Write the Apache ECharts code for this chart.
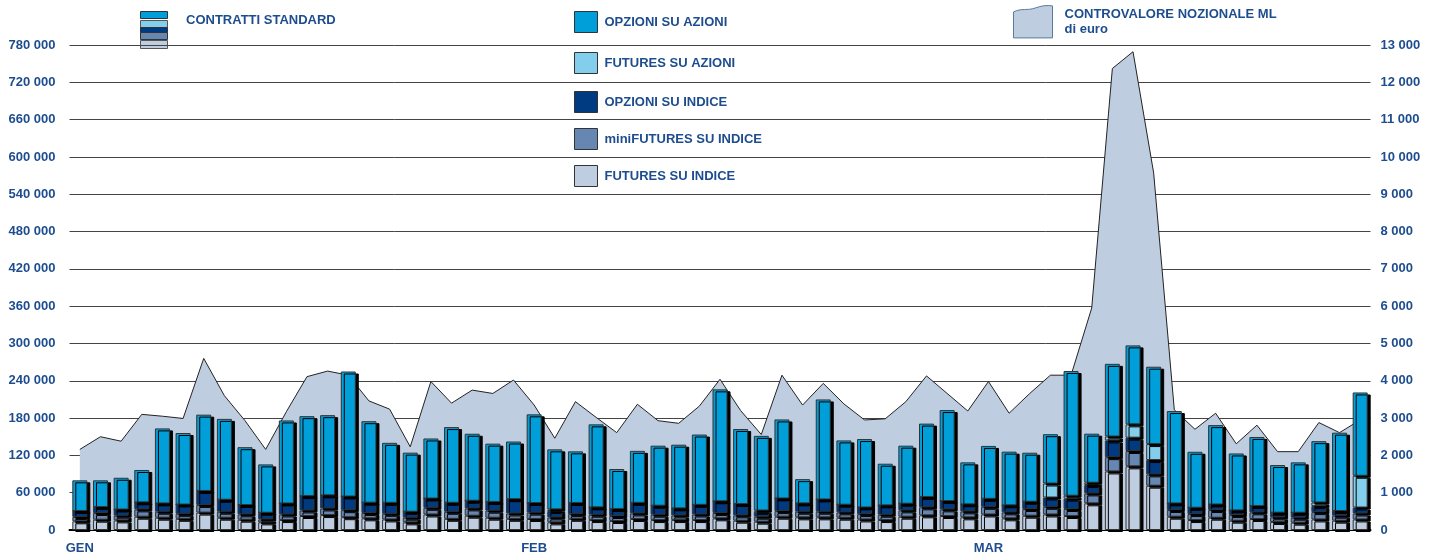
<!DOCTYPE html>
<html>
<head>
<meta charset="utf-8">
<script src="https://cdn.jsdelivr.net/npm/echarts@6/dist/echarts.min.js"></script>
<style>
  html, body { margin: 0; padding: 0; background: #fff; }
  #chart { width: 1435px; height: 556px; }
</style>
</head>
<body>
<div id="chart"></div>
<script>
// mesi e numero di sedute
var months = ['GEN', 'FEB', 'MAR'];
var daysPerMonth = [22, 22, 19];

// contratti standard per seduta
var futuresIndice = [14000, 16600, 15500, 21400, 19800, 18000, 28000, 19800, 16600, 12300, 16000, 22500, 24000, 20600, 18800, 17000, 12300, 25000, 18000, 23000, 19800, 18000,
  17700, 12300, 18000, 16000, 14500, 17700, 16000, 16000, 16000, 18800, 15000, 13400, 21400, 20400, 20400, 19800, 17000, 16000, 21400, 23600, 22500, 20400,
  25000, 18800, 23000, 25000, 22500, 42900, 94200, 102400, 71300, 21400, 16000, 19800, 15000, 17700, 12900, 11800, 17000, 15000, 17000];
var miniFuturesIndice = [7000, 10700, 7500, 11800, 9600, 8000, 12300, 9600, 8600, 4800, 9000, 9000, 10700, 11300, 8600, 9000, 7500, 10700, 11300, 11800, 11300, 8600,
  10200, 8000, 7500, 8600, 8000, 9000, 8600, 7500, 9000, 8600, 8600, 8000, 9000, 9000, 9000, 8600, 8600, 8600, 10200, 12900, 10700, 9600,
  12300, 9600, 10700, 12300, 11300, 16000, 23000, 24700, 18200, 10700, 9600, 12300, 9000, 10700, 7500, 8000, 11800, 8000, 9600];
var opzioniIndice = [9600, 9600, 10000, 11300, 13400, 15000, 22500, 19300, 15000, 10700, 17700, 23000, 21000, 22000, 16600, 17700, 9600, 15000, 14500, 12300, 14000, 23000,
  15500, 10200, 18000, 11800, 11300, 17000, 14500, 11300, 15500, 18800, 18200, 8000, 20400, 13400, 19800, 12300, 10700, 15000, 10700, 16600, 13400, 11300,
  12900, 11300, 11800, 15000, 16600, 13400, 26800, 21400, 23000, 10700, 10200, 9000, 7500, 10200, 7500, 8000, 9600, 7500, 9600];
var futuresAzioni = [0, 0, 0, 0, 0, 0, 0, 0, 0, 0, 0, 0, 0, 0, 0, 0, 0, 0, 0, 0, 0, 0,
  0, 2700, 0, 0, 0, 0, 0, 0, 0, 0, 0, 2000, 0, 0, 0, 0, 0, 0, 0, 0, 0, 0,
  0, 0, 0, 22500, 4800, 3800, 6400, 21400, 25700, 0, 0, 0, 0, 0, 0, 0, 5900, 0, 51000];
var opzioniAzioni = [49300, 43000, 51000, 52000, 120600, 115000, 122700, 130000, 93000, 77700, 133500, 128600, 129000, 201000, 131000, 96500, 95000, 96500, 121700, 107700, 93800, 92700,
  142600, 96500, 83000, 133500, 64300, 83600, 96500, 102400, 113000, 180000, 120600, 120000, 127000, 39000, 160800, 103400, 110000, 67000, 93300, 118000, 146300, 67500,
  85000, 86300, 78800, 79300, 200500, 78800, 116800, 127000, 124400, 148500, 90000, 127600, 91600, 111000, 76600, 81000, 98600, 126000, 134000];

// controvalore nozionale (milioni di euro)
var controvalore = [2160, 2500, 2380, 3100, 3050, 2990, 4600, 3600, 2930, 2160, 3170, 4110, 4260, 4150, 3460, 3240, 2230, 3980, 3400, 3750, 3660, 4020,
  3350, 2460, 3440, 3020, 2610, 3370, 2930, 2860, 3320, 4040, 3200, 2560, 4150, 3350, 3930, 3380, 2950, 2980, 3440, 4130, 3660, 3190,
  3980, 3130, 3660, 4150, 4150, 5950, 12370, 12820, 9570, 3220, 2700, 3130, 2310, 2810, 2100, 2100, 2880, 2610, 2950];

var blu = '#1E4D8F';
var colori = {
  opzAz: '#009FD9',
  futAz: '#82CEEC',
  opzIdx: '#003A80',
  mini: '#6787B3',
  futIdx: '#BECDE0'
};

// categorie: una per seduta, etichetta solo al primo giorno del mese
var categories = [];
var monthStarts = [];
months.forEach(function (m, k) {
  monthStarts.push(categories.length);
  for (var d = 1; d <= daysPerMonth[k]; d++) categories.push(m + '-' + d);
});

function spazi(v) {
  return String(v).replace(/\B(?=(\d{3})+(?!\d))/g, ' ');
}

var chart = echarts.init(document.getElementById('chart'));

var barStyle = function (c) {
  return {
    color: c,
    borderColor: '#333',
    borderWidth: 1,
    shadowColor: '#000',
    shadowBlur: 0,
    shadowOffsetX: 3,
    shadowOffsetY: 2
  };
};

var txt = { color: blu, fontWeight: 'bold', fontSize: 13, fontFamily: 'Arial, Liberation Sans, sans-serif' };
var noShadow = { borderColor: '#333', borderWidth: 1, shadowColor: 'rgba(0,0,0,0)', shadowBlur: 0, shadowOffsetX: 0, shadowOffsetY: 0 };

function voce(name, top) {
  return {
    data: [{ name: name, icon: 'rect' }],
    left: 574, top: top, padding: 0,
    itemWidth: 23, itemHeight: 21,
    selectedMode: false,
    itemStyle: noShadow,
    textStyle: Object.assign({ padding: [0, 0, 0, 2] }, txt)
  };
}

var areaName = 'CONTROVALORE NOZIONALE ML di euro';

var option = {
  animation: false,
  grid: { left: 69.5, right: 64.5, top: 45, bottom: 26 },
  legend: [
    voce('OPZIONI SU AZIONI', 11),
    voce('FUTURES SU AZIONI', 52),
    voce('OPZIONI SU INDICE', 91),
    voce('miniFUTURES SU INDICE', 128),
    voce('FUTURES SU INDICE', 165),
    {
      data: [{ name: areaName, icon: 'path://M0,7 C8,3 14,6 22,3 C28,1 33,0 39,1 L39,33 L0,33 Z' }],
      left: 1013, top: 5, padding: 0,
      itemWidth: 39, itemHeight: 33,
      selectedMode: false,
      itemStyle: { color: '#BECDE0', borderColor: '#5A7A9C', borderWidth: 1 },
      formatter: function () { return 'CONTROVALORE NOZIONALE ML\ndi euro'; },
      textStyle: Object.assign({ padding: [1, 0, 0, 7], lineHeight: 15 }, txt)
    }
  ],
  graphic: [
    {
      type: 'group', left: 140, top: 11,
      children: [
        { type: 'rect', shape: { x: 0, y: 0, width: 27, height: 7 }, style: { fill: colori.opzAz, stroke: '#333', lineWidth: 1 } },
        { type: 'rect', shape: { x: 0, y: 9, width: 27, height: 7 }, style: { fill: colori.futAz, stroke: '#555', lineWidth: 1 } },
        { type: 'rect', shape: { x: 0, y: 16, width: 27, height: 5 }, style: { fill: colori.opzIdx, stroke: '#333', lineWidth: 1 } },
        { type: 'rect', shape: { x: 0, y: 21, width: 27, height: 7 }, style: { fill: colori.mini, stroke: '#333', lineWidth: 1 } },
        { type: 'rect', shape: { x: 0, y: 29, width: 27, height: 8 }, style: { fill: colori.futIdx, stroke: '#555', lineWidth: 1 } }
      ]
    },
    {
      type: 'text', left: 186, top: 14,
      style: { text: 'CONTRATTI STANDARD', fill: blu, font: 'bold 13px Arial, Liberation Sans, sans-serif' }
    }
  ],
  xAxis: {
    type: 'category',
    data: categories,
    axisLine: { lineStyle: { color: '#000', width: 2 } },
    axisTick: {
      length: 6,
      lineStyle: { color: '#000' },
      interval: function (i) { return monthStarts.indexOf(i) >= 0; }
    },
    axisLabel: Object.assign({
      margin: 12,
      interval: function (i) { return monthStarts.indexOf(i) >= 0; },
      formatter: function (v) { return v.split('-')[0]; }
    }, txt)
  },
  yAxis: [
    {
      type: 'value', min: 0, max: 780000, interval: 60000,
      axisLine: { show: false }, axisTick: { show: false },
      splitLine: { lineStyle: { color: '#444', width: 1 } },
      axisLabel: Object.assign({ margin: 14, formatter: spazi }, txt)
    },
    {
      type: 'value', min: 0, max: 13000, interval: 1000,
      axisLine: { show: false }, axisTick: { show: false },
      splitLine: { show: false },
      axisLabel: Object.assign({ margin: 10, formatter: spazi }, txt)
    }
  ],
  series: [
    {
      name: areaName, type: 'line', yAxisIndex: 1,
      data: controvalore,
      symbol: 'none',
      lineStyle: { color: '#222', width: 1 },
      areaStyle: { color: '#BECDE0', opacity: 1 },
      z: 1
    },
    { name: 'FUTURES SU INDICE', type: 'bar', stack: 'cs', barWidth: 15, data: futuresIndice, itemStyle: barStyle(colori.futIdx), z: 3 },
    { name: 'miniFUTURES SU INDICE', type: 'bar', stack: 'cs', barWidth: 15, data: miniFuturesIndice, itemStyle: barStyle(colori.mini), z: 3 },
    { name: 'OPZIONI SU INDICE', type: 'bar', stack: 'cs', barWidth: 15, data: opzioniIndice, itemStyle: barStyle(colori.opzIdx), z: 3 },
    { name: 'FUTURES SU AZIONI', type: 'bar', stack: 'cs', barWidth: 15, data: futuresAzioni, itemStyle: barStyle(colori.futAz), z: 3 },
    { name: 'OPZIONI SU AZIONI', type: 'bar', stack: 'cs', barWidth: 15, data: opzioniAzioni, itemStyle: barStyle(colori.opzAz), z: 3 }
  ]
};

chart.setOption(option);
</script>
</body>
</html>
